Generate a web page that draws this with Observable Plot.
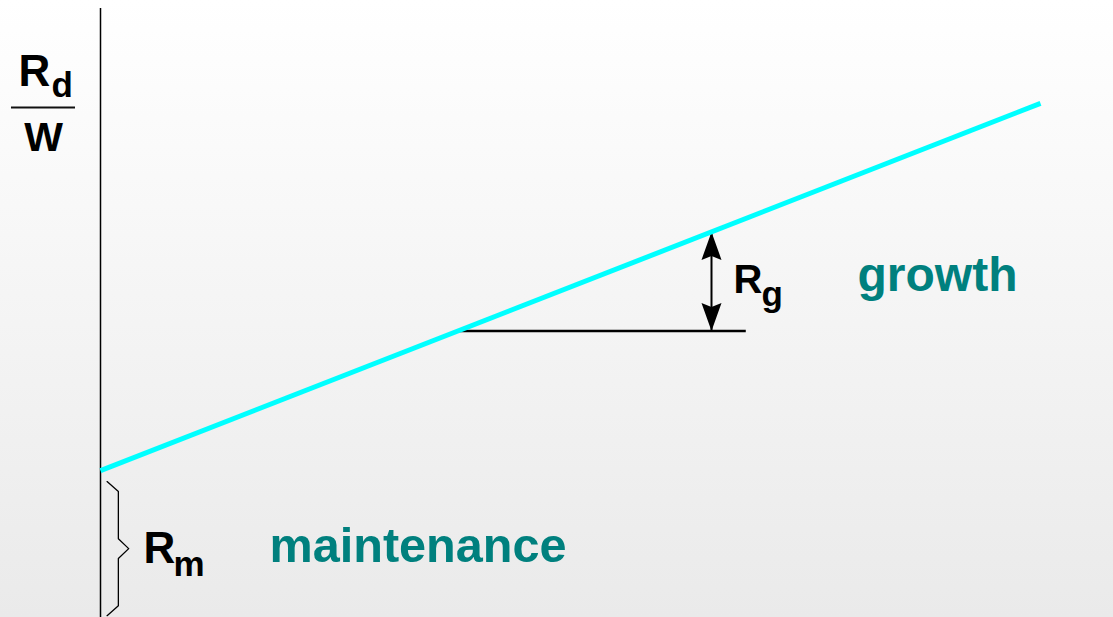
<!DOCTYPE html>
<html><head><meta charset="utf-8">
<script src="https://cdn.jsdelivr.net/npm/d3@7"></script>
<script src="https://cdn.jsdelivr.net/npm/@observablehq/plot@0.6"></script>
<style>body{margin:0;background:#fff} svg{display:block}</style>
</head><body><div id="chart"></div>
<script>
// ---- data (relative units) ----
const weight = [0, 10];            // W
const respiration = [4, 14];       // Rd / W along the line
const Rm = 4;                      // maintenance respiration (intercept)
const growthStart = 3.8;           // start of the Rg reference segment
const growthEnd = 6.87;            // end of the Rg reference segment
const growthArrowAt = 6.5;         // where the Rg double arrow sits
const labelGrowth = "growth";
const labelMaint = "maintenance";

// ---- derived ----
const slope = (respiration[1] - respiration[0]) / (weight[1] - weight[0]);
const f = x => respiration[0] + slope * (x - weight[0]);
const lineData = weight.map((w, i) => ({x: w, y: respiration[i]}));
const y0 = f(growthStart), yA = f(growthArrowAt);
const yMid = (y0 + yA) / 2;

// brace spanning 0 .. Rm
const bTop = Rm - 0.3, bBot = 0.05, bMid = (bTop + bBot) / 2, k = 0.27;
const brace = [
  {x: 0.07, y: bTop}, {x: 0.19, y: bTop - k}, {x: 0.19, y: bMid + k},
  {x: 0.30, y: bMid}, {x: 0.19, y: bMid - k}, {x: 0.19, y: bBot + k}, {x: 0.07, y: bBot}
];

// arrowhead symbols with tip at the origin
const headUp = {draw(c) { c.moveTo(0, 0); c.lineTo(10, 28); c.lineTo(0, 24); c.lineTo(-10, 28); c.closePath(); }};
const headDown = {draw(c) { c.moveTo(0, 0); c.lineTo(10, -28); c.lineTo(0, -24); c.lineTo(-10, -28); c.closePath(); }};

const FONT = "Liberation Sans, Arial, Helvetica, sans-serif";
const TEAL = "#00807e";
const txt = (data, o) => Plot.text(data, {fontFamily: FONT, fontWeight: "bold", lineAnchor: "bottom", textAnchor: "start", ...o});
const sub = (data, o) => txt(data, {fontWeight: 600, fontSize: 35, ...o});

const chart = Plot.plot({
  width: 1113, height: 617,
  marginLeft: 100, marginRight: 73, marginTop: 0, marginBottom: 0,
  x: {domain: [0, 10], axis: null},
  y: {domain: [0, 16.8], axis: null},
  style: {background: "linear-gradient(180deg, #ffffff 0%, #eaeaea 100%)", overflow: "visible"},
  marks: [
    // vertical axis
    Plot.ruleX([weight[0]], {y1: 0, y2: 16.58, stroke: "#000", strokeWidth: 1.5}),
    // brace for Rm
    Plot.line(brace, {x: "x", y: "y", stroke: "#000", strokeWidth: 1.3, curve: "linear"}),
    // Rg reference segment
    Plot.ruleY([y0], {x1: growthStart, x2: growthEnd, stroke: "#000", strokeWidth: 2.5}),
    // Rg double arrow
    Plot.ruleX([growthArrowAt], {y1: y0, y2: yA, stroke: "#000", strokeWidth: 2}),
    Plot.dot([{x: growthArrowAt, y: yA}], {x: "x", y: "y", symbol: headUp, fill: "#000", stroke: "none"}),
    Plot.dot([{x: growthArrowAt, y: y0}], {x: "x", y: "y", symbol: headDown, fill: "#000", stroke: "none"}),
    // respiration line
    Plot.line(lineData, {x: "x", y: "y", stroke: "#00ffff", strokeWidth: 5, strokeLinecap: "butt"}),
    // y label Rd / W
    txt([0], {frameAnchor: "top-left", text: d => "R", fontSize: 44, dx: -82, dy: 85}),
    sub([0], {frameAnchor: "top-left", text: d => "d", dx: -49, dy: 96}),
    Plot.ruleY([13.887], {x1: -0.947, x2: -0.266, stroke: "#111", strokeWidth: 2}),
    txt([0], {frameAnchor: "top-left", text: d => "W", fontSize: 41, textAnchor: "middle", dx: -57, dy: 150}),
    // Rg label + growth
    txt([{x: growthArrowAt, y: yMid}], {x: "x", y: "y", text: d => "R", fontSize: 40, dx: 22, dy: 12}),
    sub([{x: growthArrowAt, y: yMid}], {x: "x", y: "y", text: d => "g", dx: 50, dy: 25}),
    txt([{x: growthArrowAt, y: yMid}], {x: "x", y: "y", text: d => labelGrowth, fontSize: 48, fill: TEAL, dx: 146, dy: 10}),
    // Rm label + maintenance
    txt([{x: weight[0], y: bMid}], {x: "x", y: "y", text: d => "R", fontSize: 44, dx: 43, dy: 14}),
    sub([{x: weight[0], y: bMid}], {x: "x", y: "y", text: d => "m", dx: 73, dy: 27}),
    txt([{x: weight[0], y: bMid}], {x: "x", y: "y", text: d => labelMaint, fontSize: 48.6, fill: TEAL, dx: 169, dy: 13})
  ]
});
document.getElementById("chart").appendChild(chart);
</script>
</body></html>
